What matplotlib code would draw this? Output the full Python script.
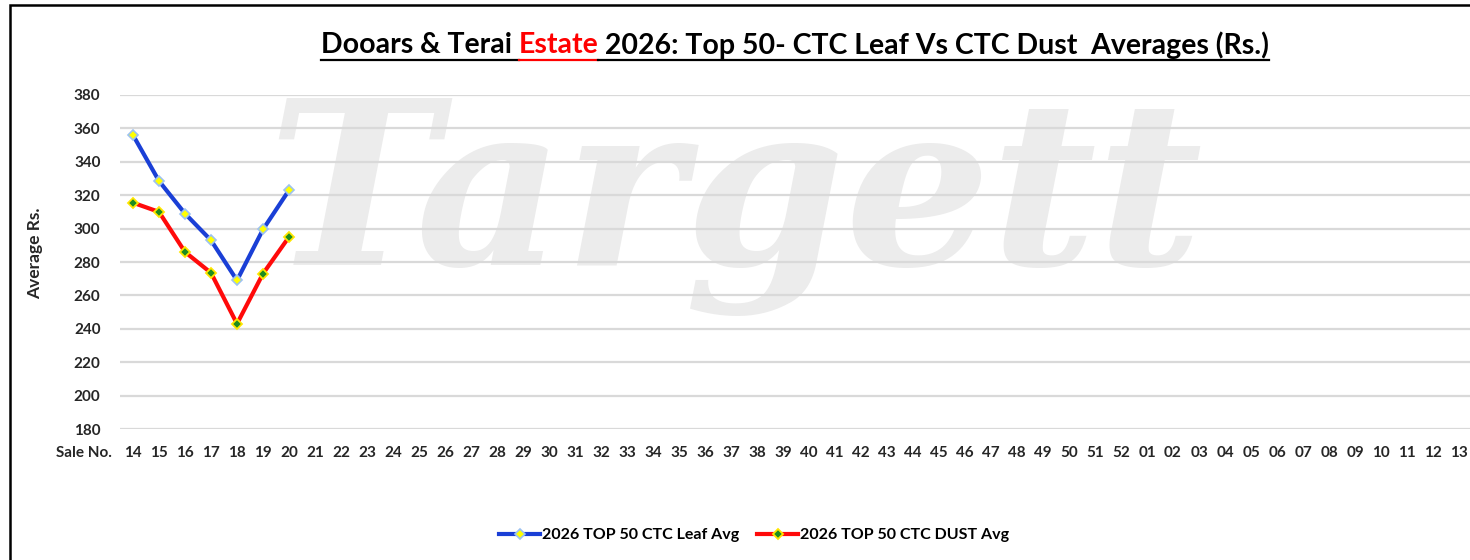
import matplotlib
matplotlib.use("Agg")
import matplotlib.pyplot as plt
from matplotlib.patches import Rectangle
from matplotlib.lines import Line2D

# ---------------- data ----------------
sale_nos = [f"{n:02d}" for n in range(14, 53)] + [f"{n:02d}" for n in range(1, 14)]
leaf_sales = ["14", "15", "16", "17", "18", "19", "20"]
leaf_avg = [356, 328.5, 309, 293, 269, 299.5, 323]
dust_avg = [315.5, 310, 286, 273.5, 243, 273, 295]
y_ticks = list(range(180, 400, 20))

title_parts = [("Dooars & Terai ", "black"), ("Estate", "#FF0000"),
               (" 2026: Top 50- CTC Leaf Vs CTC Dust  Averages (Rs.)", "black")]
leaf_label = "2026 TOP 50 CTC Leaf Avg"
dust_label = "2026 TOP 50 CTC DUST Avg"

W, H = 1470, 560
plt.rcParams['font.family'] = ['Lato', 'DejaVu Sans']
fig = plt.figure(figsize=(W / 100, H / 100), dpi=100)
fig.patch.set_facecolor("white")

def fx(px):
    return px / W

def fy(py):
    return 1 - py / H

# outer frame
fig.patches.append(Rectangle((fx(10), fy(600)), fx(1500), fy(5) - fy(600),
                             transform=fig.transFigure, fill=False,
                             edgecolor="black", linewidth=1.8, zorder=0))

# watermark
fig.text(fx(735), fy(205), "Targett", fontsize=165, fontfamily="DejaVu Serif",
         fontweight="bold", fontstyle="italic", color="#ECECEC",
         ha="center", va="center", zorder=-1)

ax_left, ax_right = 120, 1472
ax_top, ax_bot = 95, 429
ax = fig.add_axes([fx(ax_left), fy(ax_bot), fx(ax_right - ax_left), (ax_bot - ax_top) / H])
ax.patch.set_alpha(0)
ax.set_zorder(2)

idx = {s: i for i, s in enumerate(sale_nos)}
xs = [idx[s] for s in leaf_sales]

ax.plot(xs, leaf_avg, color="#1A3FD6", linewidth=3.0, marker="D", markersize=5.5,
        markerfacecolor="#FFFF00", markeredgecolor="#9CC2F0", markeredgewidth=1.2,
        label=leaf_label, zorder=3)
ax.plot(xs, dust_avg, color="#FF0A0A", linewidth=3.0, marker="D", markersize=5.5,
        markerfacecolor="#1E8C1E", markeredgecolor="#FFE600", markeredgewidth=1.3,
        label=dust_label, zorder=3)

ax.set_xlim(-0.5, len(sale_nos) - 0.5)
ax.set_ylim(180, 380)
ax.set_yticks(y_ticks)
ax.set_xticks(range(len(sale_nos)))
ax.set_xticklabels(sale_nos)
ax.grid(axis="y", color="#D9D9D9", linewidth=1.6)
ax.set_axisbelow(True)
for s in ax.spines.values():
    s.set_visible(False)
ax.tick_params(axis="both", length=0, labelsize=11, labelcolor="#262626")
ax.tick_params(axis="y", pad=14)
ax.tick_params(axis="x", pad=12)
for lab in ax.get_xticklabels() + ax.get_yticklabels():
    lab.set_fontweight("bold")

fig.text(fx(35), fy(253), "Average Rs.", fontsize=12.5, rotation=90, color="#262626",
         ha="center", va="center", fontweight="bold")

fig.canvas.draw()
renderer = fig.canvas.get_renderer()

# "Sale No." aligned with the x tick labels
tick_bb = ax.get_xticklabels()[0].get_window_extent(renderer)
fig.text(fx(56), (tick_bb.y0 + tick_bb.y1) / 2 / H, "Sale No.", fontsize=11,
         fontweight="bold", color="#262626", ha="left", va="center")

# title with red word, underlined
texts = []
for s, c in title_parts:
    t = fig.text(0, fy(45), s, fontsize=20.5, fontweight="bold", color=c,
                 ha="left", va="center")
    texts.append(t)
widths = [t.get_window_extent(renderer).width for t in texts]
total = sum(widths)
x0 = 795 - total / 2
cur = x0
for t, w in zip(texts, widths):
    t.set_x(fx(cur))
    cur += w
uy = fy(60)
cur = x0
for (s, c), w in zip(title_parts, widths):
    fig.add_artist(Line2D([fx(cur), fx(cur + w)], [uy, uy], transform=fig.transFigure,
                          color=c, linewidth=1.6))
    cur += w

leg = fig.legend(loc="center", bbox_to_anchor=(fx(754), fy(535)), ncol=2, frameon=False,
                 handlelength=2.6, handletextpad=0.1, columnspacing=1.1,
                 prop={"weight": "bold", "size": 11.5})

fig.savefig("out.png", dpi=100)
